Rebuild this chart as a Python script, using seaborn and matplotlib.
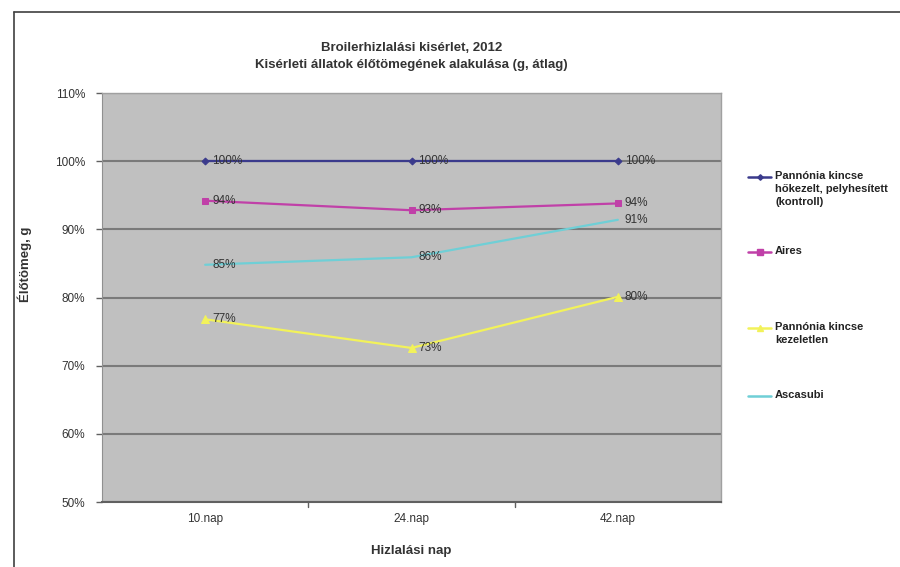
import pandas as pd
import seaborn as sns
import matplotlib.pyplot as plt
from matplotlib.lines import Line2D

# Data
days = ['10.nap', '24.nap', '42.nap']
series_names = ['Pannónia kincse\nhőkezelt, pelyhesített\n(kontroll)', 'Aires',
                'Pannónia kincse\nkezeletlen', 'Ascasubi']
kontroll = [100, 100, 100]
aires = [94.2, 92.8, 93.8]
kezeletlen = [76.8, 72.6, 80.1]
ascasubi = [84.8, 85.9, 91.4]
labels_kontroll = ['100%', '100%', '100%']
labels_aires = ['94%', '93%', '94%']
labels_kezeletlen = ['77%', '73%', '80%']
labels_ascasubi = ['85%', '86%', '91%']

colors = ['#3b3b8c', '#c040a8', '#f2f25a', '#6fcfd6']
markers = ['D', 's', '^', '']
marker_sizes = [3.5, 5, 6, 0]

all_values = [kontroll, aires, kezeletlen, ascasubi]
all_labels = [labels_kontroll, labels_aires, labels_kezeletlen, labels_ascasubi]

sns.set_style('white')
plt.rcParams['font.family'] = ['Liberation Sans', 'DejaVu Sans']

W, H = 900, 567
fig = plt.figure(figsize=(9, 5.67), dpi=100)
ax = fig.add_axes([102 / W, 1 - 502 / H, 619 / W, 409 / H])
ax.set_facecolor('#c0c0c0')

# Plot each series
for name, vals, col, mk, ms in zip(series_names, all_values, colors, markers, marker_sizes):
    df = pd.DataFrame({'nap': days, 'val': vals})
    sns.lineplot(data=df, x='nap', y='val', ax=ax, color=col, linewidth=1.6,
                 marker=mk if mk else None, markersize=ms, markeredgecolor=col,
                 sort=False, zorder=3)

# Data labels
for vals, labs in zip(all_values, all_labels):
    for i, (v, lab) in enumerate(zip(vals, labs)):
        ax.annotate(lab, (i, v), xytext=(5, 0), textcoords='offset points',
                    va='center', ha='left', fontsize=8.5, color='#333333', zorder=4)

ax.set_xlim(-0.5, 2.5)
ax.set_ylim(50, 110)
ax.set_yticks(range(50, 111, 10))
ax.set_yticklabels([f'{t}%' for t in range(50, 111, 10)], fontsize=8.5, color='#333333')
ax.set_xticks(range(len(days)))
ax.set_xticklabels(days, fontsize=8.5, color='#333333')
ax.tick_params(axis='x', length=0, pad=8)
ax.tick_params(axis='y', length=4, width=1, color='#606060', direction='out', left=True, pad=8)
for b in [0.5, 1.5]:
    ax.axvline(b, ymin=-0.012, ymax=0, color='#606060', lw=1, clip_on=False)
ax.yaxis.grid(True, color='#7a7a7a', linewidth=1.5)
ax.set_axisbelow(True)
for s in ['top', 'right']:
    ax.spines[s].set_color('#a0a0a0')
    ax.spines[s].set_linewidth(1)
ax.spines['left'].set_color('#909090')
ax.spines['bottom'].set_color('#606060')
ax.spines['bottom'].set_linewidth(1.5)

ax.set_xlabel('Hizlalási nap', fontsize=9.5, fontweight='bold', color='#333333', labelpad=14)
ax.set_ylabel('Élőtömeg, g', fontsize=9.5, fontweight='bold', color='#333333')
ax.yaxis.set_label_coords(-0.113, 0.58)
ax.set_title('Broilerhizlalási kisérlet, 2012\nKisérleti állatok élőtömegének alakulása (g, átlag)',
             fontsize=9.5, fontweight='bold', color='#333333', pad=18, linespacing=1.6)

# Legend, Excel style: marker line next to the first text line
legend_y = [177, 252, 328, 396]
for name, col, mk, ms, y in zip(series_names, colors, markers, marker_sizes, legend_y):
    fy = 1 - y / H
    fig.add_artist(Line2D([748 / W, 771 / W], [fy, fy], color=col, lw=1.8))
    if mk:
        fig.add_artist(Line2D([759.5 / W], [fy], color=col, marker=mk,
                              markersize=ms * 0.8, markeredgecolor=col))
    fig.text(775 / W, fy + 6 / H, name, fontsize=8, fontweight='bold', color='#222222',
             va='top', ha='left', linespacing=1.35)

# Outer border (left and top)
fig.add_artist(Line2D([14 / W, 14 / W], [0, 1 - 12 / H], color='#404040', lw=1.2))
fig.add_artist(Line2D([14 / W, 1], [1 - 12 / H, 1 - 12 / H], color='#404040', lw=1.2))

fig.savefig('out.png', dpi=100)
